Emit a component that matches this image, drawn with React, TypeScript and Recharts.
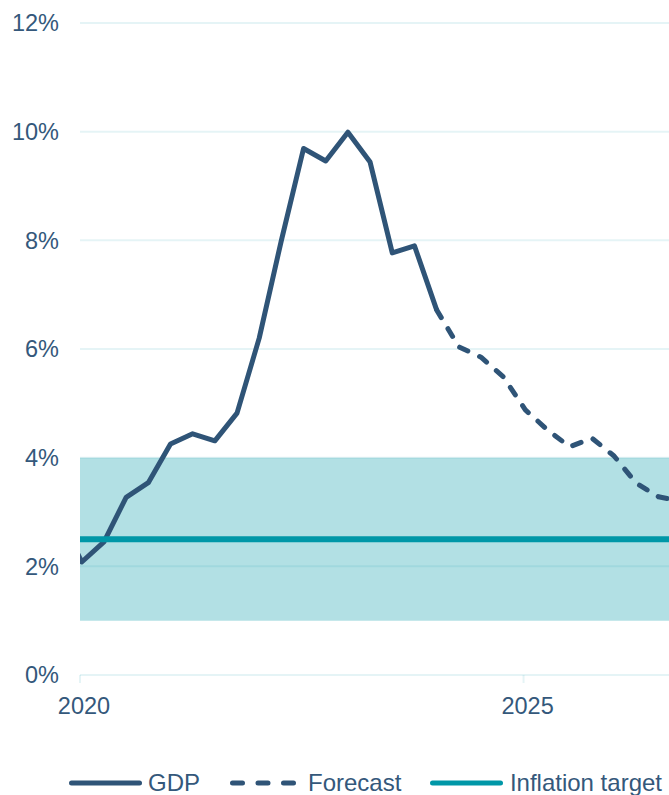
import React from 'react';
import { LineChart, Line, XAxis, YAxis, CartesianGrid, ReferenceArea, Legend } from 'recharts';

// ---- Data ----
const quarterDates = [
  2019.77, 2020.02, 2020.27, 2020.52, 2020.77, 2021.02, 2021.27, 2021.52, 2021.77,
  2022.02, 2022.27, 2022.52, 2022.77, 2023.02, 2023.27, 2023.52, 2023.77, 2024.02,
  2024.27, 2024.52, 2024.77, 2025.02, 2025.27, 2025.52, 2025.77, 2026.02, 2026.27,
  2026.52, 2026.77,
];
const gdpActual: (number | null)[] = [
  2.9, 2.08, 2.45, 3.27, 3.54, 4.25, 4.44, 4.31, 4.82,
  6.2, 8.0, 9.69, 9.46, 9.99, 9.44, 7.77, 7.9, 6.72,
  null, null, null, null, null, null, null, null, null, null, null,
];
const gdpForecast: (number | null)[] = [
  null, null, null, null, null, null, null, null, null,
  null, null, null, null, null, null, null, null, 6.72,
  6.04, 5.85, 5.49, 4.88, 4.51, 4.2, 4.36, 4.03, 3.53, 3.28, 3.2,
];
const inflationTarget = 2.5;
const targetBandLow = 1;
const targetBandHigh = 4;

const xTicks = [2020, 2025];
const xDomain = [2020, 2027];
const yTicks = [0, 2, 4, 6, 8, 10, 12];
const seriesNames = ['GDP', 'Forecast', 'Inflation target'];

const rows = quarterDates.map((d, i) => ({
  date: d,
  gdp: gdpActual[i],
  forecast: gdpForecast[i],
  target: inflationTarget,
}));

// ---- Styles ----
const FONT = '"Liberation Sans", Arial, Helvetica, sans-serif';
const TEXT = '#34587b';
const GDP_COLOR = '#2f5477';
const TEAL = '#0097a7';
const GRID = 'rgba(0,151,167,0.1)';
const FS = 23.5;
const LEGEND_FS = 24;

const renderLegend = () => (
  <div
    style={{
      display: 'flex',
      alignItems: 'center',
      height: 24,
      paddingLeft: 60.5,
      fontSize: LEGEND_FS,
      color: TEXT,
      fontFamily: FONT,
      whiteSpace: 'nowrap',
      lineHeight: '24px',
    }}
  >
    <svg width={73} height={24} style={{ display: 'block' }}>
      <line x1={2.5} y1={12} x2={70.5} y2={12} stroke={GDP_COLOR} strokeWidth={5} strokeLinecap="round" />
    </svg>
    <span style={{ marginLeft: 6.5 }}>{seriesNames[0]}</span>
    <svg width={66} height={24} style={{ display: 'block', marginLeft: 30 }}>
      <line x1={2.5} y1={12} x2={64} y2={12} stroke={GDP_COLOR} strokeWidth={5} strokeLinecap="round" strokeDasharray="10 15.5" />
    </svg>
    <span style={{ marginLeft: 12 }}>{seriesNames[1]}</span>
    <svg width={73} height={24} style={{ display: 'block', marginLeft: 29 }}>
      <line x1={2.5} y1={12} x2={70.5} y2={12} stroke={TEAL} strokeWidth={5} strokeLinecap="round" />
    </svg>
    <span style={{ marginLeft: 6.5 }}>{seriesNames[2]}</span>
  </div>
);

export default function App() {
  return (
    <div
      style={{
        position: 'fixed',
        left: 0,
        top: 0,
        width: 669,
        height: 795,
        overflow: 'hidden',
        background: '#ffffff',
        fontFamily: FONT,
      }}
    >
      <div style={{ position: 'absolute', left: 8, top: 8 }}>
        <LineChart
          width={703}
          height={787}
          data={rows}
          margin={{ top: 15, right: 10, left: 0, bottom: 66 }}
        >
          <ReferenceArea y1={targetBandLow} y2={targetBandHigh} fill={TEAL} fillOpacity={0.3} stroke="none" />
          <CartesianGrid vertical={false} stroke={GRID} strokeWidth={2} />
          <XAxis
            dataKey="date"
            type="number"
            domain={xDomain}
            ticks={xTicks}
            allowDataOverflow
            axisLine={false}
            tickLine={{ stroke: GRID, strokeWidth: 2 }}
            tickSize={8}
            tickMargin={14}
            tick={{ fill: TEXT, fontSize: FS, fontFamily: FONT, dx: 4 }}
            height={30}
          />
          <YAxis
            type="number"
            domain={[0, 12]}
            ticks={yTicks}
            allowDataOverflow
            axisLine={false}
            tickLine={false}
            tickSize={6}
            tickMargin={15}
            width={72}
            tickFormatter={(v: number) => `${v}%`}
            tick={{ fill: TEXT, fontSize: FS, fontFamily: FONT }}
          />
          <Line
            type="linear"
            dataKey="gdp"
            stroke={GDP_COLOR}
            strokeWidth={5}
            strokeLinejoin="round"
            dot={false}
            activeDot={false}
            connectNulls={false}
            isAnimationActive={false}
          />
          <Line
            type="linear"
            dataKey="forecast"
            stroke={GDP_COLOR}
            strokeWidth={5}
            strokeDasharray="9 13"
            strokeLinecap="round"
            strokeLinejoin="round"
            dot={false}
            activeDot={false}
            connectNulls={false}
            isAnimationActive={false}
          />
          <Line
            type="linear"
            dataKey="target"
            stroke={TEAL}
            strokeWidth={6}
            dot={false}
            activeDot={false}
            isAnimationActive={false}
          />
          <Legend
            content={renderLegend}
            wrapperStyle={{ left: 0, width: 703, top: 763, bottom: 'auto', height: 24 }}
          />
        </LineChart>
      </div>
    </div>
  );
}
